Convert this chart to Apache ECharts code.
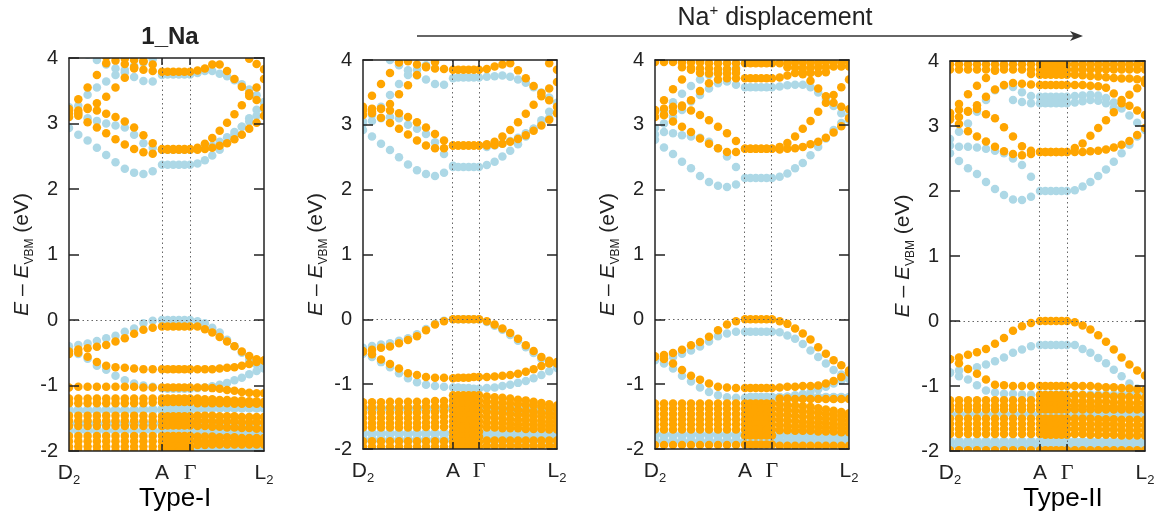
<!DOCTYPE html>
<html><head><meta charset="utf-8">
<script src="https://cdn.jsdelivr.net/npm/echarts@6/dist/echarts.min.js"></script>
<style>html,body{margin:0;padding:0;background:#fff}#c{width:1166px;height:520px}</style>
</head><body><div id="c"></div><script>
const _ = null;
// Each band: 11 k-points D2→A, 5 k-points A→Γ, 10 k-points Γ→L2 (energies in eV)
const panelTitles = ['1_Na', '', '', ''];
const panelTypes = ['Type-I', '', '', 'Type-II'];
const kLabels = ['D2', 'A', 'Γ', 'L2'];
const yTicks = [-2, -1, 0, 1, 2, 3, 4];
// path fraction of A and Γ for each panel
const kA = [0.477, 0.464, 0.464, 0.4615];
const kG = [0.621, 0.598, 0.603, 0.600];

// ---------------- Panel 1 ----------------
const p1Blue = [
[2.93,2.83,2.74,2.63,2.52,2.41,2.31,2.25,2.23,2.27,2.37, 2.37,2.37,2.37,2.37,2.37, 2.39,2.44,2.51,2.60,2.71,2.83,2.95,3.08,3.21,3.32],
[3.25,3.15,3.08,3.04,3.00,2.97,2.94,2.83,2.70,2.63,2.60, 2.60,2.60,2.60,2.60,2.60, 2.61,2.63,2.66,2.72,2.79,2.87,2.95,3.03,3.12,3.22],
[3.10,3.27,3.44,3.55,3.64,3.74,3.82,3.88,3.93,3.98,_, _,_,_,_,_, _,_,_,_,_,_,_,_,_,_],
[_,_,4.05,3.97,3.90,3.84,3.78,3.71,3.65,3.64,3.74, 3.75,3.75,3.75,3.75,3.75, 3.77,3.80,3.80,3.76,3.72,3.66,3.60,3.52,3.43,3.33],
[-0.40,-0.38,-0.36,-0.32,-0.28,-0.24,-0.18,-0.13,-0.05,-0.01,0.00, 0.00,0.00,0.00,0.00,0.00, -0.02,-0.05,-0.12,-0.19,-0.30,-0.40,-0.50,-0.61,-0.68,-0.72],
[-0.45,-0.52,-0.59,-0.70,-0.76,-0.85,-0.92,-0.97,-1.00,-1.02,-1.04, -1.05,-1.05,-1.05,-1.05,-1.05, -1.04,-1.03,-1.01,-0.99,-0.96,-0.92,-0.88,-0.83,-0.78,-0.74]
];
const p1BlueDense = [
[-1.38,-1.38,-1.38,-1.38,-1.38,-1.38,-1.38,-1.38,-1.37,-1.37,-1.37, -1.36,-1.36,-1.36,-1.36,-1.36, -1.35,-1.35,-1.34,-1.34,-1.34,-1.34,-1.34,-1.34,-1.34,-1.34],
[-1.58,-1.58,-1.58,-1.58,-1.58,-1.58,-1.58,-1.58,-1.58,-1.58,-1.58, _,_,_,_,_, -1.58,-1.58,-1.58,-1.59,-1.59,-1.59,-1.60,-1.60,-1.60,-1.60],
[-1.69,-1.69,-1.69,-1.69,-1.69,-1.69,-1.69,-1.69,-1.69,-1.69,-1.69, -1.69,-1.69,-1.69,-1.69,-1.69, -1.70,-1.70,-1.71,-1.71,-1.72,-1.72,-1.73,-1.73,-1.74,-1.74],
[_,_,_,_,_,_,_,_,_,_,_, _,_,_,_,_, -1.95,-1.95,-1.95,-1.96,-1.96,-1.96,-1.96,-1.96,-1.96,-1.96]
];
const p1Orange = [
[3.22,3.12,3.02,2.94,2.85,2.76,2.68,2.61,2.56,2.54,2.60, 2.60,2.60,2.60,2.60,2.60, 2.60,2.61,2.63,2.66,2.70,2.76,2.83,2.92,3.01,3.12],
[3.15,3.20,3.22,3.20,3.15,3.10,3.03,2.94,2.82,2.70,2.61, 2.61,2.61,2.61,2.61,2.61, 2.63,2.69,2.78,2.89,3.01,3.14,3.28,3.42,3.55,3.68],
[_,_,_,_,4.02,3.96,3.91,3.86,3.82,3.80,3.79, 3.79,3.79,3.79,3.79,3.79, 3.81,3.84,3.90,3.90,3.80,3.68,3.56,3.46,3.36,3.24],
[3.20,3.37,3.55,3.74,3.92,_,_,_,_,_,_, _,_,_,_,_, _,_,_,_,_,_,_,_,_,_],
[3.10,3.16,3.24,3.31,3.41,3.55,3.70,3.84,3.95,_,_, _,_,_,_,_, _,_,_,_,_,_,_,_,_,_],
[_,_,_,_,_,_,3.99,3.97,3.95,3.90,_, _,_,_,_,_, _,_,_,_,_,_,_,3.99,3.91,3.83],
[-0.48,-0.45,-0.43,-0.41,-0.38,-0.33,-0.28,-0.21,-0.15,-0.12,-0.10, -0.10,-0.10,-0.10,-0.10,-0.10, -0.10,-0.14,-0.19,-0.26,-0.33,-0.40,-0.48,-0.55,-0.60,-0.62],
[-0.52,-0.50,-0.56,-0.64,-0.70,-0.72,-0.73,-0.74,-0.75,-0.75,-0.75, -0.75,-0.75,-0.75,-0.75,-0.75, -0.75,-0.75,-0.75,-0.74,-0.73,-0.72,-0.70,-0.67,-0.64,-0.62],
[-1.03,-1.02,-1.02,-1.02,-1.02,-1.02,-1.02,-1.02,-1.03,-1.03,-1.03, -1.03,-1.03,-1.03,-1.03,-1.03, -1.03,-1.03,-1.04,-1.05,-1.07,-1.08,-1.10,-1.11,-1.12,-1.12],
[-1.20,-1.20,-1.20,-1.20,-1.20,-1.20,-1.20,-1.20,-1.20,-1.20,-1.20, -1.20,-1.20,-1.20,-1.20,-1.20, -1.20,-1.21,-1.21,-1.22,-1.22,-1.23,-1.23,-1.24,-1.24,-1.25],
[-1.27,-1.27,-1.27,-1.27,-1.27,-1.27,-1.27,-1.27,-1.27,-1.26,-1.26, -1.25,-1.25,-1.25,-1.25,-1.25, -1.27,-1.27,-1.27,-1.27,-1.27,-1.28,-1.28,-1.28,-1.28,-1.28],
[-1.46,-1.46,-1.46,-1.46,-1.46,-1.46,-1.46,-1.46,-1.46,-1.47,-1.47, -1.47,-1.47,-1.47,-1.47,-1.47, -1.46,-1.46,-1.46,-1.47,-1.47,-1.47,-1.48,-1.48,-1.48,-1.48],
[-1.54,-1.54,-1.54,-1.54,-1.54,-1.54,-1.54,-1.54,-1.54,-1.54,-1.54, -1.55,-1.55,-1.55,-1.55,-1.55, -1.54,-1.54,-1.55,-1.55,-1.55,-1.55,-1.56,-1.56,-1.56,-1.56],
[-1.62,-1.62,-1.62,-1.62,-1.62,-1.62,-1.62,-1.62,-1.62,-1.62,-1.62, -1.61,-1.61,-1.61,-1.61,-1.61, -1.62,-1.62,-1.63,-1.63,-1.64,-1.64,-1.65,-1.65,-1.66,-1.66],
[-1.77,-1.77,-1.77,-1.77,-1.77,-1.77,-1.77,-1.77,-1.77,-1.77,-1.77, -1.77,-1.77,-1.77,-1.77,-1.77, -1.78,-1.78,-1.78,-1.79,-1.79,-1.79,-1.80,-1.80,-1.80,-1.80],
[-1.85,-1.85,-1.85,-1.85,-1.85,-1.85,-1.85,-1.85,-1.85,-1.85,-1.85, -1.85,-1.85,-1.85,-1.85,-1.85, -1.85,-1.85,-1.85,-1.86,-1.86,-1.86,-1.86,-1.86,-1.86,-1.86],
[-1.93,-1.93,-1.93,-1.93,-1.93,-1.93,-1.93,-1.93,-1.93,-1.93,-1.93, -1.93,-1.93,-1.93,-1.93,-1.93, -1.91,-1.91,-1.90,-1.90,-1.90,-1.90,-1.90,-1.90,-1.90,-1.90],
[-2.00,-2.00,-2.00,-2.00,-2.00,-2.00,-2.00,-2.00,-2.00,-2.00,-2.00, -2.00,-2.00,-2.00,-2.00,-2.00, _,_,_,_,_,_,_,_,_,_]
];

// ---------------- Panel 2 ----------------
const p2Blue = [
[2.92,2.82,2.71,2.61,2.50,2.39,2.30,2.24,2.21,2.26,2.35, 2.35,2.35,2.35,2.35,2.35, 2.38,2.43,2.51,2.60,2.70,2.82,2.94,3.07,3.20,3.33],
[3.02,3.06,3.10,3.12,3.10,3.00,2.94,2.86,2.73,2.55,2.37, _,_,_,_,_, 2.66,2.68,2.71,2.75,2.80,2.87,2.94,3.02,3.10,3.19],
[3.05,3.15,3.28,3.46,3.63,3.77,3.85,3.92,3.97,_,_, _,_,_,_,_, _,_,_,_,_,_,_,_,_,_],
[_,_,_,4.00,3.92,3.84,3.76,3.70,3.63,3.62,3.72, 3.73,3.73,3.73,3.73,3.73, 3.74,3.75,3.76,3.74,3.70,3.65,3.58,3.50,3.42,3.34],
[-0.44,-0.41,-0.39,-0.37,-0.33,-0.29,-0.23,-0.15,-0.07,-0.02,0.00, 0.00,0.00,0.00,0.00,0.00, -0.04,-0.10,-0.16,-0.24,-0.33,-0.43,-0.52,-0.61,-0.68,-0.73],
[-0.53,-0.58,-0.66,-0.74,-0.83,-0.91,-0.97,-1.01,-1.03,-1.04,-1.05, -1.05,-1.06,-1.06,-1.07,-1.07, -1.06,-1.05,-1.03,-1.01,-0.98,-0.95,-0.91,-0.86,-0.80,-0.75]
];
const p2BlueDense = [
[-1.38,-1.38,-1.38,-1.38,-1.38,-1.38,-1.38,-1.38,-1.38,-1.38,-1.38, -1.37,-1.37,-1.37,-1.37,-1.37, -1.38,-1.38,-1.39,-1.39,-1.40,-1.40,-1.40,-1.41,-1.41,-1.41],
[-1.76,-1.76,-1.76,-1.76,-1.76,-1.76,-1.76,-1.76,-1.76,-1.76,-1.76, -1.76,-1.76,-1.76,-1.76,-1.76, -1.76,-1.76,-1.77,-1.77,-1.77,-1.77,-1.78,-1.78,-1.78,-1.78],
[-1.86,-1.86,-1.86,-1.86,-1.86,-1.86,-1.86,-1.86,-1.86,-1.86,-1.86, _,_,_,_,_, -1.86,-1.86,-1.86,-1.86,-1.86,-1.86,-1.86,-1.86,-1.86,-1.86]
];
const p2Orange = [
[3.28,3.18,3.11,3.03,2.94,2.85,2.76,2.68,2.64,2.64,2.68, 2.68,2.68,2.68,2.68,2.68, 2.68,2.69,2.71,2.74,2.78,2.84,2.91,2.99,3.08,3.18],
[3.22,3.25,3.25,3.22,3.18,3.12,3.04,2.96,2.86,2.76,2.68, 2.68,2.68,2.68,2.68,2.68, 2.70,2.74,2.82,2.92,3.04,3.17,3.31,3.44,3.56,3.66],
[_,_,_,_,_,3.98,3.93,3.89,3.87,3.86,3.85, 3.85,3.85,3.85,3.85,3.85, 3.86,3.90,3.93,3.95,3.84,3.72,3.60,3.49,3.38,3.28],
[3.24,3.45,3.63,3.80,3.96,_,_,_,_,_,_, _,_,_,_,_, _,_,_,_,_,_,_,_,_,_],
[3.15,3.20,3.25,3.32,3.47,3.61,3.77,3.90,3.97,_,_, _,_,_,_,_, _,_,_,_,_,_,_,_,_,_],
[_,_,_,_,_,_,_,_,_,_,_, _,_,_,_,_, _,_,_,_,_,_,_,_,3.95,3.85],
[-0.49,-0.47,-0.44,-0.42,-0.37,-0.32,-0.26,-0.17,-0.08,-0.03,0.00, 0.00,0.00,0.00,0.00,0.00, -0.03,-0.08,-0.14,-0.21,-0.30,-0.40,-0.49,-0.58,-0.64,-0.68],
[-0.50,-0.54,-0.62,-0.69,-0.76,-0.83,-0.86,-0.89,-0.90,-0.90,-0.91, -0.90,-0.90,-0.90,-0.89,-0.89, -0.89,-0.88,-0.87,-0.86,-0.84,-0.81,-0.77,-0.72,-0.68,-0.66],
[_,_,_,_,_,_,_,_,_,_,-1.17, -1.17,-1.17,-1.17,-1.17,-1.17, -1.19,-1.20,-1.21,-1.22,-1.24,-1.25,-1.27,-1.29,-1.31,-1.33],
[-1.28,-1.28,-1.28,-1.27,-1.27,-1.27,-1.27,-1.27,-1.26,-1.26,-1.25, -1.25,-1.25,-1.25,-1.25,-1.25, -1.27,-1.28,-1.29,-1.30,-1.31,-1.32,-1.33,-1.35,-1.37,-1.39],
[-1.36,-1.36,-1.36,-1.36,-1.36,-1.36,-1.36,-1.35,-1.35,-1.34,-1.33, -1.33,-1.33,-1.33,-1.33,-1.33, -1.35,-1.36,-1.37,-1.38,-1.40,-1.41,-1.42,-1.44,-1.45,-1.46],
[-1.44,-1.44,-1.44,-1.44,-1.44,-1.44,-1.44,-1.43,-1.43,-1.42,-1.41, -1.41,-1.41,-1.41,-1.41,-1.41, -1.43,-1.44,-1.45,-1.46,-1.47,-1.48,-1.49,-1.50,-1.51,-1.52],
[-1.52,-1.52,-1.52,-1.52,-1.52,-1.52,-1.52,-1.51,-1.51,-1.50,-1.49, -1.49,-1.49,-1.49,-1.49,-1.49, -1.51,-1.52,-1.53,-1.54,-1.55,-1.55,-1.56,-1.57,-1.58,-1.58],
[-1.60,-1.60,-1.60,-1.60,-1.60,-1.60,-1.60,-1.59,-1.59,-1.58,-1.57, -1.57,-1.57,-1.57,-1.57,-1.57, -1.59,-1.60,-1.60,-1.61,-1.62,-1.62,-1.63,-1.63,-1.64,-1.64],
[-1.67,-1.67,-1.67,-1.67,-1.67,-1.67,-1.67,-1.66,-1.66,-1.66,-1.65, -1.65,-1.65,-1.65,-1.65,-1.65, -1.67,-1.67,-1.68,-1.68,-1.68,-1.69,-1.69,-1.69,-1.70,-1.70],
[_,_,_,_,_,_,_,_,_,_,-1.73, -1.73,-1.73,-1.73,-1.73,-1.73, _,_,_,_,_,_,_,_,_,_],
[_,_,_,_,_,_,_,_,_,_,-1.81, -1.81,-1.81,-1.81,-1.81,-1.81, _,_,_,_,_,_,_,_,_,_],
[-1.88,-1.88,-1.88,-1.88,-1.88,-1.88,-1.88,-1.88,-1.88,-1.88,-1.89, -1.89,-1.89,-1.89,-1.89,-1.89, -1.87,-1.87,-1.87,-1.87,-1.87,-1.87,-1.87,-1.87,-1.87,-1.87],
[-1.96,-1.96,-1.96,-1.96,-1.96,-1.96,-1.96,-1.96,-1.96,-1.96,-1.96, -1.96,-1.96,-1.96,-1.96,-1.96, -1.95,-1.95,-1.95,-1.95,-1.95,-1.95,-1.95,-1.95,-1.95,-1.95]
];

// ---------------- Panel 3 ----------------
const p3Blue = [
[2.77,2.65,2.55,2.43,2.33,2.21,2.12,2.06,2.04,2.08,2.18, 2.18,2.18,2.18,2.18,2.18, 2.20,2.25,2.33,2.41,2.53,2.66,2.79,2.92,3.03,3.13],
[2.85,2.89,2.87,2.84,2.82,2.80,2.74,2.64,2.51,2.35,_, _,_,_,_,_, _,_,_,_,_,_,_,_,_,_],
[2.95,3.02,3.12,3.23,3.36,3.46,3.56,3.64,3.67,3.62,3.58, 3.58,3.58,3.58,3.58,3.58, 3.59,3.61,3.62,3.62,3.58,3.50,3.40,3.29,3.18,3.08],
[_,3.22,3.35,3.48,3.60,3.70,3.77,3.82,3.85,3.88,_, _,_,_,_,_, _,_,_,_,_,_,_,_,_,_],
[-0.62,-0.61,-0.58,-0.53,-0.48,-0.42,-0.34,-0.26,-0.22,-0.19,-0.19, -0.19,-0.19,-0.19,-0.19,-0.19, -0.20,-0.25,-0.30,-0.38,-0.48,-0.58,-0.68,-0.78,-0.85,-0.92],
[-0.63,-0.68,-0.76,-0.87,-0.96,-1.05,-1.12,-1.17,-1.20,-1.21,-1.21, -1.21,-1.21,-1.21,-1.21,-1.21, -1.20,-1.19,-1.17,-1.15,-1.12,-1.08,-1.04,-0.99,-0.94,-0.89]
];
const p3BlueDense = [
[_,_,_,_,_,_,_,_,_,_,_, -1.21,-1.21,-1.21,-1.21,-1.21, -1.21,-1.21,-1.21,-1.21,-1.21,-1.21,-1.21,-1.21,-1.21,-1.21],
[-1.78,-1.78,-1.78,-1.78,-1.78,-1.78,-1.78,-1.78,-1.78,-1.78,-1.78, -1.78,-1.78,-1.78,-1.78,-1.78, -1.78,-1.78,-1.78,-1.78,-1.78,-1.78,-1.79,-1.79,-1.79,-1.79],
[-1.88,-1.88,-1.88,-1.88,-1.88,-1.88,-1.88,-1.88,-1.88,-1.88,-1.88, -1.87,-1.87,-1.87,-1.87,-1.87, -1.88,-1.88,-1.88,-1.88,-1.88,-1.88,-1.88,-1.88,-1.88,-1.88]
];
const p3Orange = [
[3.23,3.15,3.05,2.97,2.89,2.79,2.71,2.64,2.58,2.58,2.63, 2.63,2.63,2.63,2.63,2.63, 2.62,2.63,2.64,2.66,2.70,2.74,2.80,2.88,2.98,3.10],
[3.20,3.25,3.28,3.30,3.22,3.15,3.07,2.97,2.87,2.75,2.63, 2.63,2.63,2.63,2.63,2.63, 2.66,2.72,2.82,2.94,3.06,3.20,3.34,3.46,3.58,3.70],
[3.12,3.15,3.20,3.28,3.38,3.52,3.64,3.70,3.72,3.72,3.72, 3.72,3.72,3.72,3.72,3.72, 3.73,3.76,3.80,3.78,3.68,3.56,3.44,3.34,3.28,3.24],
[3.22,3.38,3.55,3.70,3.85,3.98,_,_,_,_,_, _,_,_,_,_, _,_,_,_,_,_,_,_,_,_],
[3.97,3.97,3.97,3.96,3.96,3.96,3.95,3.95,3.95,3.95,3.95, 3.95,3.95,3.95,3.95,3.95, 3.95,3.95,3.96,3.96,3.96,3.96,3.97,3.97,3.97,3.97],
[_,_,_,3.89,3.88,3.87,3.87,3.86,3.86,3.86,_, _,_,_,_,_, _,3.89,3.88,3.88,3.88,3.89,3.89,3.90,3.90,3.90],
[_,_,_,_,_,3.80,3.79,3.79,3.79,3.80,_, _,_,_,_,_, _,_,_,3.81,3.80,3.80,3.81,_,_,_],
[-0.58,-0.55,-0.52,-0.47,-0.40,-0.35,-0.27,-0.17,-0.08,-0.03,0.00, 0.00,0.00,0.00,0.00,0.00, -0.03,-0.07,-0.14,-0.22,-0.31,-0.43,-0.53,-0.63,-0.71,-0.79],
[-0.57,-0.61,-0.68,-0.78,-0.87,-0.93,-0.99,-1.04,-1.05,-1.06,-1.06, -1.06,-1.06,-1.06,-1.06,-1.06, -1.05,-1.04,-1.04,-1.03,-1.03,-1.02,-0.99,-0.95,-0.89,-0.82],
[_,_,_,_,_,_,_,_,_,_,_, _,_,_,_,_, -1.22,-1.22,-1.23,-1.23,-1.23,-1.23,-1.23,-1.23,-1.23,-1.23],
[-1.30,-1.30,-1.30,-1.30,-1.30,-1.30,-1.30,-1.30,-1.30,-1.30,-1.30, -1.30,-1.30,-1.30,-1.30,-1.30, -1.31,-1.32,-1.33,-1.34,-1.35,-1.37,-1.39,-1.41,-1.43,-1.45],
[-1.38,-1.38,-1.38,-1.38,-1.38,-1.38,-1.38,-1.38,-1.38,-1.38,-1.38, -1.38,-1.38,-1.38,-1.38,-1.38, -1.39,-1.40,-1.41,-1.42,-1.43,-1.44,-1.46,-1.47,-1.49,-1.50],
[-1.46,-1.46,-1.46,-1.46,-1.46,-1.46,-1.46,-1.46,-1.46,-1.46,-1.46, -1.46,-1.46,-1.46,-1.46,-1.46, -1.47,-1.48,-1.49,-1.50,-1.51,-1.52,-1.53,-1.54,-1.55,-1.56],
[-1.54,-1.54,-1.54,-1.54,-1.54,-1.54,-1.54,-1.54,-1.54,-1.54,-1.54, -1.54,-1.54,-1.54,-1.54,-1.54, -1.55,-1.56,-1.57,-1.58,-1.59,-1.59,-1.60,-1.61,-1.62,-1.62],
[-1.62,-1.62,-1.62,-1.62,-1.62,-1.62,-1.62,-1.62,-1.62,-1.62,-1.62, -1.62,-1.62,-1.62,-1.62,-1.62, -1.63,-1.64,-1.65,-1.65,-1.66,-1.66,-1.67,-1.67,-1.68,-1.68],
[-1.70,-1.70,-1.70,-1.70,-1.70,-1.70,-1.70,-1.70,-1.70,-1.70,-1.70, -1.70,-1.70,-1.70,-1.70,-1.70, -1.71,-1.71,-1.72,-1.72,-1.72,-1.73,-1.73,-1.73,-1.74,-1.74],
[_,_,_,_,_,_,_,_,_,_,-1.79, -1.79,-1.79,-1.79,-1.79,-1.79, _,_,_,_,_,_,_,_,_,_],
[-1.94,-1.94,-1.94,-1.94,-1.94,-1.94,-1.94,-1.94,-1.94,-1.94,-1.93, -1.93,-1.93,-1.93,-1.93,-1.93, -1.95,-1.95,-1.95,-1.95,-1.95,-1.95,-1.95,-1.95,-1.95,-1.95]
];

// ---------------- Panel 4 ----------------
const p4Blue = [
[2.58,2.46,2.35,2.26,2.14,2.03,1.94,1.87,1.86,1.91,2.00, 2.00,2.00,2.00,2.00,2.00, 2.01,2.07,2.14,2.23,2.33,2.45,2.58,2.71,2.84,2.94],
[2.70,2.68,2.68,2.67,2.65,2.62,2.58,2.50,2.40,2.22,_, _,_,_,_,_, _,_,_,_,_,_,_,_,_,_],
[2.80,2.91,3.04,3.22,3.40,3.55,3.62,3.60,3.52,3.46,3.45, 3.45,3.45,3.45,3.45,3.45, 3.46,3.47,3.48,3.47,3.43,3.36,3.27,3.16,3.05,2.95],
[_,_,_,_,_,_,_,3.40,3.37,3.35,3.35, 3.35,3.35,3.35,3.35,3.35, 3.36,3.38,3.40,3.39,3.35,3.28,_,_,_,_],
[-0.79,-0.76,-0.74,-0.71,-0.67,-0.62,-0.56,-0.49,-0.44,-0.39,-0.37, -0.37,-0.37,-0.37,-0.37,-0.37, -0.37,-0.43,-0.49,-0.57,-0.65,-0.75,-0.85,-0.96,-1.04,-1.09],
[-0.80,-0.85,-0.90,-0.99,-1.07,-1.10,-1.12,-1.12,-1.13,-1.13,-1.13, -1.13,-1.13,-1.13,-1.13,-1.13, -1.13,-1.13,-1.13,-1.13,-1.13,-1.13,-1.12,-1.11,-1.10,-1.10]
];
const p4BlueDense = [
[-1.43,-1.43,-1.43,-1.43,-1.43,-1.43,-1.43,-1.43,-1.43,-1.43,-1.43, -1.43,-1.43,-1.43,-1.43,-1.43, -1.43,-1.43,-1.43,-1.43,-1.43,-1.43,-1.43,-1.43,-1.43,-1.43],
[-1.86,-1.86,-1.86,-1.86,-1.86,-1.86,-1.86,-1.86,-1.86,-1.86,-1.86, -1.86,-1.86,-1.86,-1.86,-1.86, -1.86,-1.86,-1.86,-1.86,-1.86,-1.86,-1.86,-1.86,-1.86,-1.86],
[-1.93,-1.93,-1.93,-1.93,-1.93,-1.93,-1.93,-1.93,-1.93,-1.93,-1.93, -1.93,-1.93,-1.93,-1.93,-1.93, -1.93,-1.93,-1.93,-1.93,-1.93,-1.93,-1.93,-1.93,-1.93,-1.93]
];
const p4Orange = [
[3.15,3.03,2.92,2.84,2.76,2.68,2.61,2.57,2.55,2.57,2.60, 2.60,2.60,2.60,2.60,2.60, 2.60,2.60,2.61,2.62,2.64,2.67,2.71,2.77,2.86,2.97],
[3.20,3.25,3.23,3.26,3.18,3.12,2.98,2.84,2.69,2.62,2.60, 2.60,2.60,2.60,2.60,2.60, 2.66,2.73,2.85,2.97,3.09,3.21,3.35,3.48,3.58,3.66],
[3.10,3.14,3.22,3.32,3.45,3.56,3.63,3.66,3.65,3.64,3.63, 3.63,3.63,3.63,3.63,3.63, 3.63,3.63,3.62,3.61,3.59,3.50,3.40,3.31,3.24,3.17],
[3.20,3.34,3.49,3.62,3.74,3.85,3.93,_,_,_,_, _,_,_,_,_, _,_,_,_,_,_,_,_,_,_],
[3.95,3.95,3.95,3.95,3.95,3.95,3.95,3.95,3.95,3.95,3.95, 3.95,3.95,3.95,3.95,3.95, 3.95,3.95,3.95,3.95,3.95,3.95,3.95,3.95,3.95,3.95],
[3.87,3.87,3.87,3.87,3.87,3.87,3.87,3.87,3.87,3.87,3.87, 3.87,3.87,3.87,3.87,3.87, 3.87,3.87,3.87,3.87,3.87,3.87,3.87,3.87,3.87,3.87],
[_,_,_,_,_,_,_,_,_,3.80,3.79, 3.79,3.79,3.79,3.79,3.79, 3.79,3.78,3.77,3.76,3.75,3.74,3.73,3.73,3.72,3.71],
[-0.59,-0.56,-0.52,-0.48,-0.43,-0.35,-0.26,-0.15,-0.08,-0.03,0.00, 0.00,0.00,0.00,0.00,0.00, -0.02,-0.07,-0.13,-0.22,-0.32,-0.44,-0.56,-0.67,-0.76,-0.84],
[-0.59,-0.65,-0.74,-0.81,-0.90,-0.98,-0.99,-1.00,-1.00,-1.00,-1.00, -1.00,-1.00,-1.00,-1.00,-1.00, -1.00,-1.00,-1.00,-1.01,-1.02,-1.02,-1.03,-1.04,-1.05,-1.06],
[_,_,_,_,_,_,_,_,_,_,-1.14, -1.14,-1.14,-1.14,-1.14,-1.14, -1.14,-1.14,-1.15,-1.15,-1.15,-1.16,-1.16,-1.17,-1.17,-1.18],
[-1.22,-1.22,-1.22,-1.22,-1.22,-1.22,-1.22,-1.22,-1.22,-1.22,-1.22, -1.22,-1.22,-1.22,-1.22,-1.22, -1.23,-1.23,-1.24,-1.24,-1.24,-1.25,-1.25,-1.26,-1.26,-1.26],
[-1.30,-1.30,-1.30,-1.30,-1.30,-1.30,-1.30,-1.30,-1.30,-1.30,-1.30, -1.30,-1.30,-1.30,-1.30,-1.30, -1.30,-1.31,-1.31,-1.31,-1.32,-1.32,-1.32,-1.33,-1.33,-1.33],
[-1.36,-1.36,-1.36,-1.36,-1.36,-1.36,-1.36,-1.36,-1.36,-1.36,-1.36, -1.36,-1.36,-1.36,-1.36,-1.36, -1.36,-1.36,-1.36,-1.36,-1.36,-1.36,-1.36,-1.36,-1.36,-1.36],
[-1.50,-1.50,-1.50,-1.50,-1.50,-1.50,-1.50,-1.50,-1.50,-1.50,-1.50, -1.50,-1.50,-1.50,-1.50,-1.50, -1.50,-1.50,-1.50,-1.51,-1.51,-1.51,-1.52,-1.52,-1.52,-1.52],
[-1.58,-1.58,-1.58,-1.58,-1.58,-1.58,-1.58,-1.58,-1.58,-1.58,-1.58, -1.58,-1.58,-1.58,-1.58,-1.58, -1.58,-1.58,-1.59,-1.59,-1.59,-1.59,-1.60,-1.60,-1.60,-1.60],
[-1.66,-1.66,-1.66,-1.66,-1.66,-1.66,-1.66,-1.66,-1.66,-1.66,-1.66, -1.66,-1.66,-1.66,-1.66,-1.66, -1.66,-1.66,-1.67,-1.67,-1.67,-1.67,-1.68,-1.68,-1.68,-1.68],
[-1.74,-1.74,-1.74,-1.74,-1.74,-1.74,-1.74,-1.74,-1.74,-1.74,-1.74, -1.75,-1.75,-1.75,-1.75,-1.75, -1.74,-1.74,-1.75,-1.75,-1.75,-1.75,-1.76,-1.76,-1.76,-1.76],
[-1.99,-1.99,-1.99,-1.99,-1.99,-1.99,-1.99,-1.99,-1.99,-1.99,-1.99, -1.99,-1.99,-1.99,-1.99,-1.99, -1.99,-1.99,-1.99,-1.99,-1.99,-1.99,-1.99,-1.99,-1.99,-1.99]
];

const panelBlue = [p1Blue, p2Blue, p3Blue, p4Blue];
const panelBlueDense = [p1BlueDense, p2BlueDense, p3BlueDense, p4BlueDense];
const panelOrange = [p1Orange, p2Orange, p3Orange, p4Orange];

// ---------------- layout & style ----------------
const ORANGE = '#FFA500', BLUE = '#ADD8E6', INK = '#222';
const FONT = 'Liberation Sans, Arial, sans-serif';
const grids = [
  {left: 69, top: 58, width: 195, height: 393},
  {left: 363, top: 60, width: 194, height: 389},
  {left: 655, top: 60, width: 194, height: 389},
  {left: 950, top: 61, width: 195, height: 390}
];

function kx(p, j) {
  if (j <= 10) return kA[p] * j / 10;
  if (j <= 15) return kA[p] + (kG[p] - kA[p]) * (j - 10) / 5;
  return kG[p] + (1 - kG[p]) * (j - 15) / 10;
}
function pts(p, bands) {
  const out = [];
  bands.forEach(b => {
    for (let j = 0; j < 26; j++) {
      const v = b[j];
      if (v !== null && v !== undefined && v >= -2.07 && v <= 4.07) out.push([kx(p, j), v]);
    }
  });
  return out;
}
function kLabelFor(p, v) {
  const ks = [0, kA[p], kG[p], 1];
  let best = 0;
  for (let i = 1; i < 4; i++) if (Math.abs(ks[i] - v) < Math.abs(ks[best] - v)) best = i;
  const t = kLabels[best];
  if (t === 'Γ') return '{g|Γ}';
  if (t.length === 2) return '{n|' + t[0] + '}{s|' + t[1] + '}';
  return '{n|' + t + '}';
}

const lineStyle = {color: INK, width: 1.5};
const option = {
  animation: false,
  backgroundColor: '#fff',
  textStyle: {fontFamily: FONT},
  grid: grids.map(g => Object.assign({outerBoundsMode: 'none', containLabel: false}, g)),
  xAxis: [],
  yAxis: [],
  series: [],
  graphic: []
};

grids.forEach((g, p) => {
  option.xAxis.push({
    gridIndex: p, type: 'value', min: 0, max: 1, position: 'bottom', z: 10,
    axisLine: {show: true, onZero: false, lineStyle},
    axisTick: {show: true, inside: true, length: 7, customValues: [kA[p], kG[p]], lineStyle},
    splitLine: {show: false},
    axisLabel: {
      show: true, margin: 8, customValues: [0, kA[p], kG[p], 1],
      formatter: v => kLabelFor(p, v),
      rich: {
        n: {fontSize: 21, color: INK, fontFamily: FONT, lineHeight: 28},
        s: {fontSize: 13, color: INK, fontFamily: FONT, lineHeight: 8, verticalAlign: 'bottom'},
        g: {fontSize: 22, color: INK, fontFamily: 'Liberation Serif, Times New Roman, serif', lineHeight: 28}
      }
    }
  });
  option.xAxis.push({
    gridIndex: p, type: 'value', min: 0, max: 1, position: 'top', z: 10,
    axisLine: {show: true, onZero: false, lineStyle},
    axisTick: {show: true, inside: true, length: 7, customValues: [kA[p], kG[p]], lineStyle},
    splitLine: {show: false}, axisLabel: {show: false}
  });
  option.yAxis.push({
    gridIndex: p, type: 'value', min: yTicks[0], max: yTicks[yTicks.length - 1], interval: 1,
    position: 'left', z: 10,
    axisLine: {show: true, onZero: false, lineStyle},
    axisTick: {show: true, inside: true, length: 10, lineStyle},
    splitLine: {show: false},
    axisLabel: {show: true, margin: 11, fontSize: 20, color: INK, fontFamily: FONT, formatter: v => String(v)},
    name: '{i|E} – {i|E}{s|VBM} (eV)',
    nameLocation: 'middle', nameGap: 33, nameRotate: 90,
    nameTextStyle: {
      fontSize: 21, color: INK, fontFamily: FONT, lineHeight: 28,
      rich: {
        i: {fontSize: 21, fontStyle: 'italic', color: INK, fontFamily: FONT, lineHeight: 28},
        s: {fontSize: 12, color: INK, fontFamily: FONT, lineHeight: 8, verticalAlign: 'bottom'}
      }
    }
  });
  option.yAxis.push({
    gridIndex: p, type: 'value', min: yTicks[0], max: yTicks[yTicks.length - 1], interval: 1,
    position: 'right', z: 10,
    axisLine: {show: true, onZero: false, lineStyle},
    axisTick: {show: true, inside: true, length: 10, lineStyle},
    splitLine: {show: false}, axisLabel: {show: false}
  });
  const xi = p * 2, yi = p * 2;
  option.series.push({
    type: 'line', xAxisIndex: xi, yAxisIndex: yi, data: [], z: 1, silent: true,
    markLine: {
      silent: true, symbol: ['none', 'none'], animation: false,
      label: {show: false},
      lineStyle: {type: [1.5, 3], color: '#666', width: 1},
      data: [{xAxis: kA[p]}, {xAxis: kG[p]}, {yAxis: 0}]
    }
  });
  option.series.push({
    type: 'scatter', xAxisIndex: xi, yAxisIndex: yi, z: 2, clip: false, silent: true,
    symbol: 'circle', symbolSize: 8.5, itemStyle: {color: BLUE, opacity: 1},
    data: pts(p, panelBlue[p])
  });
  option.series.push({
    type: 'scatter', xAxisIndex: xi, yAxisIndex: yi, z: 2, clip: false, silent: true,
    symbol: 'circle', symbolSize: 10, itemStyle: {color: BLUE, opacity: 1},
    data: pts(p, panelBlueDense[p])
  });
  option.series.push({
    type: 'scatter', xAxisIndex: xi, yAxisIndex: yi, z: 3, clip: false, silent: true,
    symbol: 'circle', symbolSize: 8.5, itemStyle: {color: ORANGE, opacity: 1},
    data: pts(p, panelOrange[p])
  });
  // white masks just outside the frame, so dots are cut by the frame
  const m = 12;
  [[g.left - m, g.top - m, m, g.height + 2 * m],
   [g.left + g.width, g.top - m, m, g.height + 2 * m],
   [g.left - m, g.top - m, g.width + 2 * m, m],
   [g.left - m, g.top + g.height, g.width + 2 * m, m]].forEach(r => {
    option.graphic.push({type: 'rect', z: 5, silent: true,
      shape: {x: r[0], y: r[1], width: r[2], height: r[3]}, style: {fill: '#fff'}});
  });
});

// titles and annotations
option.graphic.push(
  {type: 'text', z: 20, x: 170, y: 37, style: {text: panelTitles[0], font: 'bold 24px ' + FONT, fill: INK, textAlign: 'center', textVerticalAlign: 'middle'}},
  {type: 'text', z: 20, x: 175, y: 499, style: {text: panelTypes[0], font: '26px ' + FONT, fill: '#000', textAlign: 'center', textVerticalAlign: 'middle'}},
  {type: 'text', z: 20, x: 1063, y: 499, style: {text: panelTypes[3], font: '26px ' + FONT, fill: '#000', textAlign: 'center', textVerticalAlign: 'middle'}},
  {type: 'text', z: 20, x: 775, y: 18, style: {
    text: '{a|Na}{s|+}{a| displacement}', textAlign: 'center', textVerticalAlign: 'middle',
    rich: {a: {fontSize: 25, fontFamily: FONT, fill: INK, lineHeight: 30},
           s: {fontSize: 15, fontFamily: FONT, fill: INK, lineHeight: 14, verticalAlign: 'top'}}}},
  {type: 'line', z: 20, shape: {x1: 417, y1: 36, x2: 1075, y2: 36}, style: {stroke: '#333', lineWidth: 1.3}},
  {type: 'polygon', z: 20, shape: {points: [[1083, 36], [1070, 31], [1073.5, 36], [1070, 41]]}, style: {fill: '#333'}}
);

const chart = echarts.init(document.getElementById('c'), null, {renderer: 'canvas'});
chart.setOption(option);
</script></body></html>
